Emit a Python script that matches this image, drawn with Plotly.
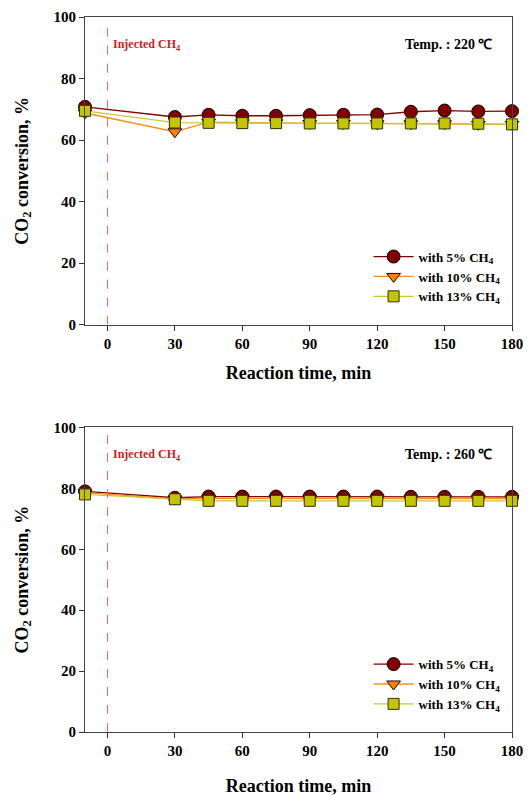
import plotly.graph_objects as go

time_min = [-10, 30, 45, 60, 75, 90, 105, 120, 135, 150, 165, 180]

# Panel 1: 220 C
t220_ch4_5 = [70.8, 67.5, 68.2, 67.9, 67.9, 68.1, 68.2, 68.3, 69.2, 69.6, 69.3, 69.4]
t220_ch4_10 = [68.8, 62.7, 65.8, 65.6, 65.6, 65.4, 65.4, 65.3, 65.3, 65.3, 65.1, 65.1]
t220_ch4_13 = [69.5, 65.7, 65.6, 65.5, 65.5, 65.4, 65.4, 65.4, 65.4, 65.4, 65.3, 65.1]

# Panel 2: 260 C
t260_ch4_5 = [79.0, 76.9, 77.3, 77.3, 77.3, 77.3, 77.3, 77.3, 77.2, 77.2, 77.2, 77.2]
t260_ch4_10 = [78.6, 76.5, 76.7, 76.7, 76.7, 76.7, 76.7, 76.7, 76.6, 76.6, 76.6, 76.6]
t260_ch4_13 = [78.0, 76.4, 75.9, 75.9, 75.9, 75.9, 75.9, 75.9, 75.9, 75.9, 75.9, 75.9]

series_names = ["with 5% CH<sub>4</sub>", "with 10% CH<sub>4</sub>", "with 13% CH<sub>4</sub>"]
temps = ["Temp. : 220 ℃", "Temp. : 260 ℃"]
x_ticks = [0, 30, 60, 90, 120, 150, 180]
y_ticks = [0, 20, 40, 60, 80, 100]

FONT = "Liberation Serif"
styles = [
    dict(line=dict(color="#800000", width=1.3),
         marker=dict(symbol="circle", size=13, color="#800000", line=dict(color="#1a0000", width=1))),
    dict(line=dict(color="#FF8C1A", width=1.3),
         marker=dict(symbol="triangle-down", size=12, color="#FF7F00", line=dict(color="#1a0a00", width=1))),
    dict(line=dict(color="#C8C832", width=1.3),
         marker=dict(symbol="square", size=11, color="#C4C400", line=dict(color="#333300", width=1))),
]

fig = go.Figure()
panels = [
    (1, [t220_ch4_5, t220_ch4_10, t220_ch4_13], "legend"),
    (2, [t260_ch4_5, t260_ch4_10, t260_ch4_13], "legend2"),
]
for idx, data, leg in panels:
    xa = "x" if idx == 1 else "x2"
    ya = "y" if idx == 1 else "y2"
    for name, vals, st in zip(series_names, data, styles):
        fig.add_trace(go.Scatter(
            x=time_min, y=vals, name=name, mode="lines+markers",
            line=st["line"], marker=st["marker"], xaxis=xa, yaxis=ya,
            legend=leg, showlegend=True, cliponaxis=False,
        ))

top_dom = [0.5697, 1.0]
bot_dom = [0.0, 0.426]

axis_common = dict(
    showgrid=False, zeroline=False, showline=True, linecolor="#444", linewidth=1.2,
    mirror=True, ticks="outside", ticklen=5, tickcolor="#333", tickwidth=1,
    tickfont=dict(family=FONT, size=15, color="black", weight="bold"),
)
xtitle1 = dict(text="<b>Reaction time, min</b>", font=dict(family=FONT, size=18, color="black"), standoff=15)
xtitle2 = dict(text="<b>Reaction time, min</b>", font=dict(family=FONT, size=18, color="black"), standoff=22)
ytitle = dict(text="<b>CO<sub>2</sub> conversion, %</b>", font=dict(family=FONT, size=18, color="black"), standoff=20)
fig.update_layout(
    xaxis=dict(domain=[0, 1], anchor="y", range=[-10, 180], tickvals=x_ticks, **axis_common, title=xtitle1),
    yaxis=dict(domain=top_dom, anchor="x", range=[0, 100], tickvals=y_ticks, **axis_common, title=ytitle),
    xaxis2=dict(domain=[0, 1], anchor="y2", range=[-10, 180], tickvals=x_ticks, **axis_common, title=xtitle2),
    yaxis2=dict(domain=bot_dom, anchor="x2", range=[0, 100], tickvals=y_ticks, **axis_common, title=ytitle),
    width=523, height=788,
    margin=dict(l=77, r=19, t=1, b=64),
    plot_bgcolor="white", paper_bgcolor="white",
    legend=dict(x=0.985, xanchor="right", y=0.588, yanchor="bottom", bgcolor="rgba(0,0,0,0)",
                font=dict(family=FONT, size=13, color="black", weight="bold"), tracegroupgap=0, itemwidth=40),
    legend2=dict(x=0.985, xanchor="right", y=0.018, yanchor="bottom", bgcolor="rgba(0,0,0,0)",
                 font=dict(family=FONT, size=13, color="black", weight="bold"), tracegroupgap=0, itemwidth=40),
    showlegend=True,
)

for xa, ya, temp in [("x", "y", temps[0]), ("x2", "y2", temps[1])]:
    fig.add_shape(type="line", xref=xa, yref=ya, x0=0, x1=0, y0=0, y1=99,
                  line=dict(color="#E06A6A", width=1, dash="dash"))
    fig.add_annotation(xref=xa, yref=ya, x=1.5, y=91, text="<b>Injected CH<sub>4</sub></b>",
                       showarrow=False, xanchor="left", yanchor="middle",
                       font=dict(family=FONT, size=12, color="#CC1F1F"))
    fig.add_annotation(xref=xa, yref=ya, x=172, y=91, text="<b>" + temp + "</b>",
                       showarrow=False, xanchor="right", yanchor="middle",
                       font=dict(family=FONT, size=14, color="black"))

fig.write_html("out.html")
